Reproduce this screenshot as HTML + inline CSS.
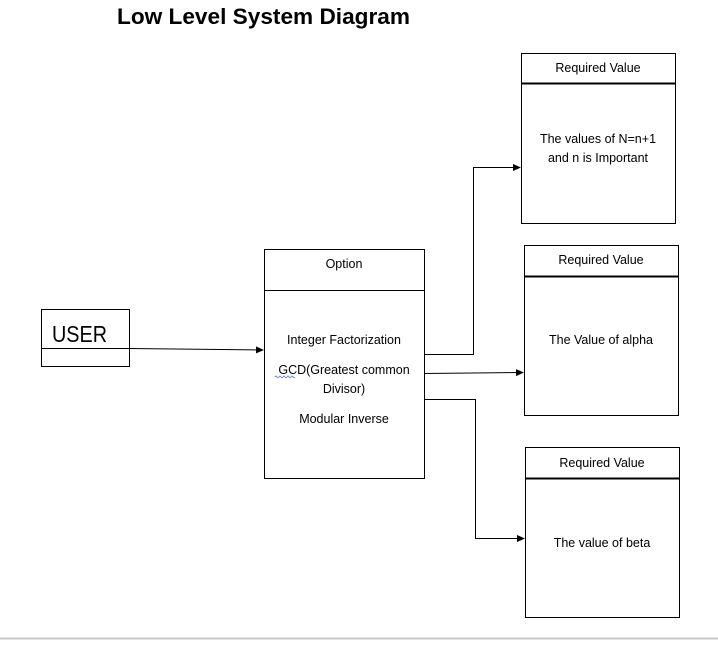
<!DOCTYPE html>
<html><head><meta charset="utf-8"><style>
body{margin:0;background:#fff;width:718px;height:640px;overflow:hidden}
</style></head><body>
<svg width="718" height="640" xmlns="http://www.w3.org/2000/svg" font-family="Liberation Sans, sans-serif">
<defs><marker id="a" markerWidth="8" markerHeight="8" refX="7" refY="4" orient="auto" markerUnits="userSpaceOnUse"><path d="M0,0.5 L8,4 L0,7.5 z" fill="#000"/></marker></defs>
<text x="117" y="24" font-size="22" font-weight="bold" textLength="293" lengthAdjust="spacingAndGlyphs">Low Level System Diagram</text>
<g fill="none" stroke="#000" stroke-width="1">
<rect x="41.5" y="309.5" width="88" height="57"/>
<line x1="41" y1="348.5" x2="129" y2="348.5"/>
<rect x="264.5" y="249.5" width="160" height="229"/>
<line x1="264" y1="290.5" x2="424" y2="290.5"/>
<rect x="521.5" y="53.5" width="154" height="170"/>
<line x1="521" y1="83.5" x2="675" y2="83.5" stroke-width="2"/>
<rect x="524.5" y="245.5" width="154" height="170"/>
<line x1="524" y1="276.5" x2="678" y2="276.5" stroke-width="2"/>
<rect x="525.5" y="447.5" width="154" height="170"/>
<line x1="525" y1="478.5" x2="679" y2="478.5" stroke-width="2"/>
<path d="M129,348.5 L263,350" marker-end="url(#a)"/>
<path d="M424,354.5 H473.5 V167.5 H520" marker-end="url(#a)"/>
<path d="M424,373.5 L523,372.5" marker-end="url(#a)"/>
<path d="M424,399.5 H475.5 V538.5 H524" marker-end="url(#a)"/>
</g>
<line x1="0" y1="638.5" x2="718" y2="638.5" stroke="#c8c8c8" stroke-width="2"/>
<text x="52" y="342" font-size="23" textLength="55" lengthAdjust="spacingAndGlyphs">USER</text>
<g font-size="12.5" text-anchor="middle">
<text x="344" y="268">Option</text>
<text x="344" y="344">Integer Factorization</text>
<text x="344" y="374">GCD(Greatest common</text>
<text x="344" y="393">Divisor)</text>
<text x="344" y="423">Modular Inverse</text>
<text x="598" y="72">Required Value</text>
<text x="598" y="143">The values of N=n+1</text>
<text x="598" y="162">and n is Important</text>
<text x="601" y="264">Required Value</text>
<text x="601" y="344">The Value of alpha</text>
<text x="602" y="467">Required Value</text>
<text x="602" y="547">The value of beta</text>
</g>
<path d="M275,377 q1,-2 2,0 t2,0 t2,0 t2,0 t2,0 t2,0 t2,0 t2,0 t2,0 t2,0" fill="none" stroke="#4a6fd8" stroke-width="0.8"/>
</svg>
</body></html>
